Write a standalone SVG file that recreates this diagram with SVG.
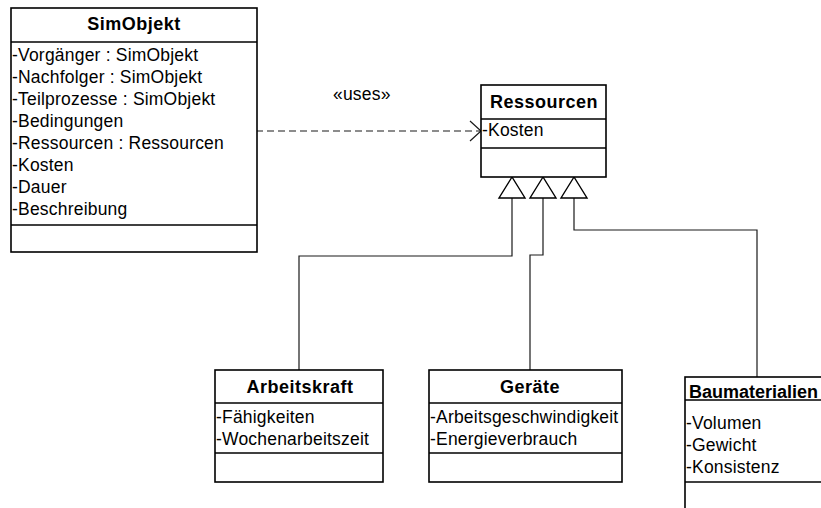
<svg xmlns="http://www.w3.org/2000/svg" width="821" height="508" viewBox="0 0 821 508">
  <style>
    .box { fill: #ffffff; stroke: #000000; stroke-width: 1.6; }
    .sep { stroke: #000000; stroke-width: 1.6; }
    .title { font-family: "Liberation Sans", Arial, sans-serif; font-size: 18px; font-weight: bold; letter-spacing: 0.5px; text-anchor: middle; fill: #000000; }
    .attr { font-family: "Liberation Sans", Arial, sans-serif; font-size: 17.5px; letter-spacing: 0.2px; fill: #000000; }
    .link { fill: none; stroke: #1a1a1a; stroke-width: 1.2; }
    .dep { fill: none; stroke: #1a1a1a; stroke-width: 1.2; stroke-dasharray: 7 4; }
    .gen { fill: #ffffff; stroke: #000000; stroke-width: 1.4; }
  </style>

  <!-- connectors -->
  <g id="connectors">
    <!-- dependency SimObjekt -> Ressourcen -->
    <path class="dep" d="M256,131 H481"/>
    <polyline class="link" points="470,121 481,131 470,141"/>
    <text class="attr" x="333" y="100">«uses»</text>
    <!-- generalisations -->
    <path class="link" d="M512,198 V256 H299 V370"/>
    <path class="link" d="M543,198 V255 H530 V370"/>
    <path class="link" d="M574,198 V230 H757 V377"/>
    <polygon class="gen" points="512,177 499,198 525,198"/>
    <polygon class="gen" points="543,177 530,198 556,198"/>
    <polygon class="gen" points="574,177 561,198 587,198"/>
  </g>

  <!-- SimObjekt -->
  <g id="simobjekt">
    <rect class="box" x="11" y="8" width="246" height="244"/>
    <line class="sep" x1="11" y1="42" x2="257" y2="42"/>
    <line class="sep" x1="11" y1="225" x2="257" y2="225"/>
    <text class="title" x="134" y="30">SimObjekt</text>
    <text class="attr" x="12" y="61">-Vorgänger : SimObjekt</text>
    <text class="attr" x="12" y="83">-Nachfolger : SimObjekt</text>
    <text class="attr" x="12" y="105">-Teilprozesse : SimObjekt</text>
    <text class="attr" x="12" y="127">-Bedingungen</text>
    <text class="attr" x="12" y="149">-Ressourcen : Ressourcen</text>
    <text class="attr" x="12" y="171">-Kosten</text>
    <text class="attr" x="12" y="193">-Dauer</text>
    <text class="attr" x="12" y="215">-Beschreibung</text>
  </g>

  <!-- Ressourcen -->
  <g id="ressourcen">
    <rect class="box" x="481" y="85" width="125" height="92"/>
    <line class="sep" x1="481" y1="119" x2="606" y2="119"/>
    <line class="sep" x1="481" y1="148" x2="606" y2="148"/>
    <text class="title" x="544" y="108">Ressourcen</text>
    <text class="attr" x="482" y="136">-Kosten</text>
  </g>

  <!-- Arbeitskraft -->
  <g id="arbeitskraft">
    <rect class="box" x="215" y="370" width="168" height="112"/>
    <line class="sep" x1="215" y1="403" x2="383" y2="403"/>
    <line class="sep" x1="215" y1="453" x2="383" y2="453"/>
    <text class="title" x="300" y="393">Arbeitskraft</text>
    <text class="attr" x="216" y="423">-Fähigkeiten</text>
    <text class="attr" x="216" y="445">-Wochenarbeitszeit</text>
  </g>

  <!-- Geräte -->
  <g id="geraete">
    <rect class="box" x="429" y="370" width="193" height="112"/>
    <line class="sep" x1="429" y1="403" x2="622" y2="403"/>
    <line class="sep" x1="429" y1="453" x2="622" y2="453"/>
    <text class="title" x="530" y="393">Geräte</text>
    <text class="attr" x="430" y="423">-Arbeitsgeschwindigkeit</text>
    <text class="attr" x="430" y="445">-Energieverbrauch</text>
  </g>

  <!-- Baumaterialien -->
  <g id="baumaterialien">
    <rect class="box" x="685" y="377" width="200" height="200"/>
    <line class="sep" x1="685" y1="400" x2="821" y2="400"/>
    <line class="sep" x1="685" y1="482" x2="821" y2="482"/>
    <text class="title" x="689" y="398" textLength="129" lengthAdjust="spacingAndGlyphs" style="text-anchor:start;letter-spacing:0">Baumaterialien</text>
    <text class="attr" x="686" y="429">-Volumen</text>
    <text class="attr" x="686" y="451">-Gewicht</text>
    <text class="attr" x="686" y="473">-Konsistenz</text>
  </g>
</svg>
